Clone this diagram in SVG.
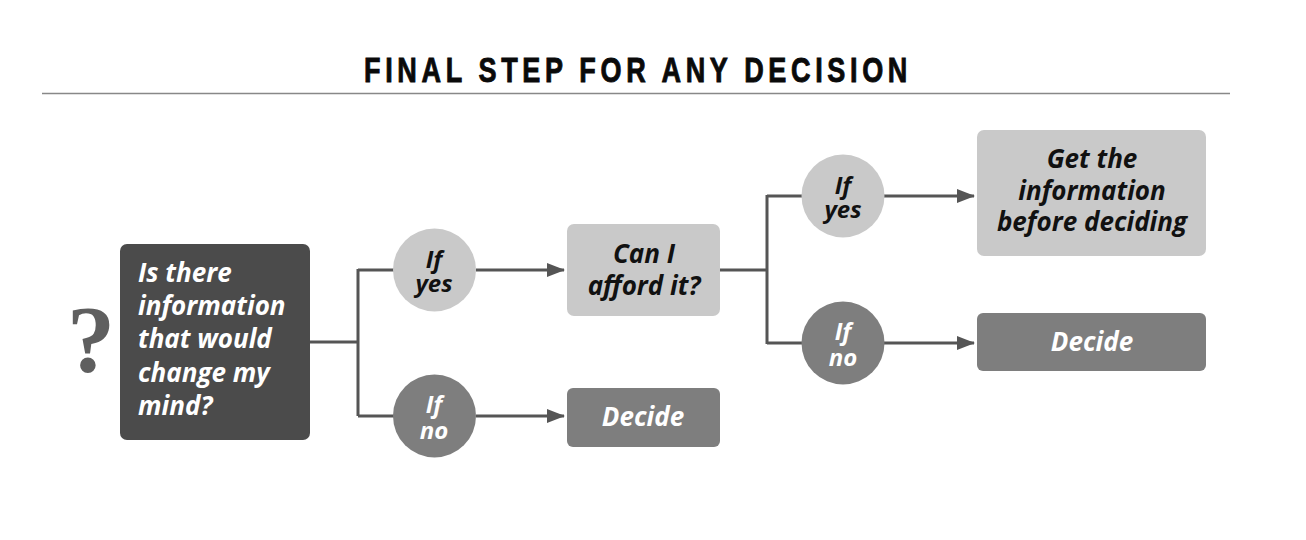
<svg xmlns="http://www.w3.org/2000/svg" width="1306" height="540" viewBox="0 0 1306 540">
<style>
.t{font-family:"Open Sans","Liberation Sans",sans-serif;font-weight:bold;font-style:italic;font-size:26px}
.s{font-size:24px}
.w{fill:#ffffff}
.k{fill:#111111}
.c{text-anchor:middle}
.light{fill:#c9c9c9}
.mid{fill:#7e7e7e}
.dark{fill:#4b4b4b}
.ln{fill:none;stroke:#555555;stroke-width:3}
</style>
<defs>
<marker id="ah" markerWidth="18" markerHeight="14" refX="17" refY="7" orient="auto" markerUnits="userSpaceOnUse">
<path d="M0,0 L18,7 L0,14 Z" fill="#555555"/>
</marker>
</defs>
<rect width="1306" height="540" fill="#ffffff"/>
<g id="title">
<text x="364" y="82" textLength="548" lengthAdjust="spacingAndGlyphs" style="font-family:'Liberation Sans',sans-serif;font-weight:bold;font-size:35px;letter-spacing:6px;fill:#0a0a0a;stroke:#0a0a0a;stroke-width:0.9">FINAL STEP FOR ANY DECISION</text>
<line x1="42" y1="93.5" x2="1230" y2="93.5" stroke="#888888" stroke-width="1.5"/>
</g>
<g id="connectors">
<path class="ln" d="M310,342 H358 M358,269 V416 M358,270 H394 M358,416 H394"/>
<path class="ln" d="M476,270 H564" marker-end="url(#ah)"/>
<path class="ln" d="M476,416 H564" marker-end="url(#ah)"/>
<path class="ln" d="M720,270 H767 M767,195 V344 M767,196 H803 M767,343 H803"/>
<path class="ln" d="M884,196 H974" marker-end="url(#ah)"/>
<path class="ln" d="M884,343 H974" marker-end="url(#ah)"/>
</g>
<g id="qmark">
<text x="91" y="372" text-anchor="middle" style="font-family:'Liberation Serif',serif;font-weight:bold;font-size:96px;fill:#5f5f5f">?</text>
</g>
<g id="start">
<rect class="dark" x="120" y="244" width="190" height="196" rx="7"/>
<text class="t w" x="138" y="282">Is there<tspan x="138" y="315">information</tspan><tspan x="138" y="348">that would</tspan><tspan x="138" y="382">change my</tspan><tspan x="138" y="415">mind?</tspan></text>
</g>
<g id="yes1">
<circle class="light" cx="434.5" cy="270" r="41.5"/>
<text class="t s k c" x="434" y="268">If<tspan x="434" y="292">yes</tspan></text>
</g>
<g id="no1">
<circle class="mid" cx="434.5" cy="416" r="41.5"/>
<text class="t s w c" x="434" y="413">If<tspan x="434" y="439">no</tspan></text>
</g>
<g id="afford">
<rect class="light" x="567" y="224" width="153" height="92" rx="7"/>
<text class="t k c" x="644" y="263">Can I<tspan x="644" y="295">afford it?</tspan></text>
</g>
<g id="decide1">
<rect class="mid" x="567" y="388" width="153" height="59" rx="6"/>
<text class="t w c" x="643" y="426">Decide</text>
</g>
<g id="yes2">
<circle class="light" cx="843" cy="196" r="41.5"/>
<text class="t s k c" x="843" y="194">If<tspan x="843" y="218">yes</tspan></text>
</g>
<g id="no2">
<circle class="mid" cx="843" cy="343" r="41.5"/>
<text class="t s w c" x="843" y="340">If<tspan x="843" y="366">no</tspan></text>
</g>
<g id="getinfo">
<rect class="light" x="977" y="130" width="229" height="126" rx="7"/>
<text class="t k c" x="1092" y="168">Get the<tspan x="1092" y="200">information</tspan><tspan x="1092" y="231">before deciding</tspan></text>
</g>
<g id="decide2">
<rect class="mid" x="977" y="313" width="229" height="58" rx="6"/>
<text class="t w c" x="1092" y="351">Decide</text>
</g>
</svg>
